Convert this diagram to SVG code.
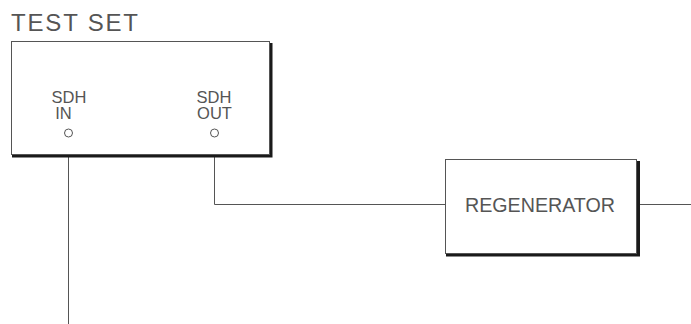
<svg xmlns="http://www.w3.org/2000/svg" width="691" height="324" viewBox="0 0 691 324">
<style>
.box{fill:#fff;stroke:#555;stroke-width:1}
.shadow{fill:none;stroke:#1a1a1a;stroke-width:3}
.wire{fill:none;stroke:#555;stroke-width:1}
.port{fill:#fff;stroke:#555;stroke-width:1}
text{font-family:"Liberation Sans",Arial,sans-serif;fill:#555}
</style>
<rect width="691" height="324" fill="#fff"/>
<g id="connectors">
<line class="wire" x1="68.5" y1="137" x2="68.5" y2="324"/>
<polyline class="wire" points="214.5,137 214.5,204.5 445,204.5"/>
<line class="wire" x1="640" y1="204.5" x2="691" y2="204.5"/>
</g>
<g id="testset">
<text x="11" y="31" font-size="24" textLength="127" lengthAdjust="spacing">TEST SET</text>
<polyline class="shadow" points="271,43 271,156 12,156"/>
<rect class="box" x="11.5" y="41.5" width="258" height="113"/>
<text x="69" y="102.5" font-size="16.5" text-anchor="middle">SDH</text>
<text x="63.5" y="119" font-size="16.5" text-anchor="middle">IN</text>
<text x="214" y="102.5" font-size="16.5" text-anchor="middle">SDH</text>
<text x="214.5" y="119" font-size="16.5" text-anchor="middle">OUT</text>
<circle class="port" cx="68.5" cy="133" r="4"/>
<circle class="port" cx="214.5" cy="133" r="4"/>
</g>
<g id="regenerator">
<polyline class="shadow" points="638.5,161 638.5,255 446,255"/>
<rect class="box" x="445.5" y="159.5" width="191" height="94"/>
<text x="465" y="212" font-size="21" textLength="150" lengthAdjust="spacingAndGlyphs">REGENERATOR</text>
</g>
</svg>
